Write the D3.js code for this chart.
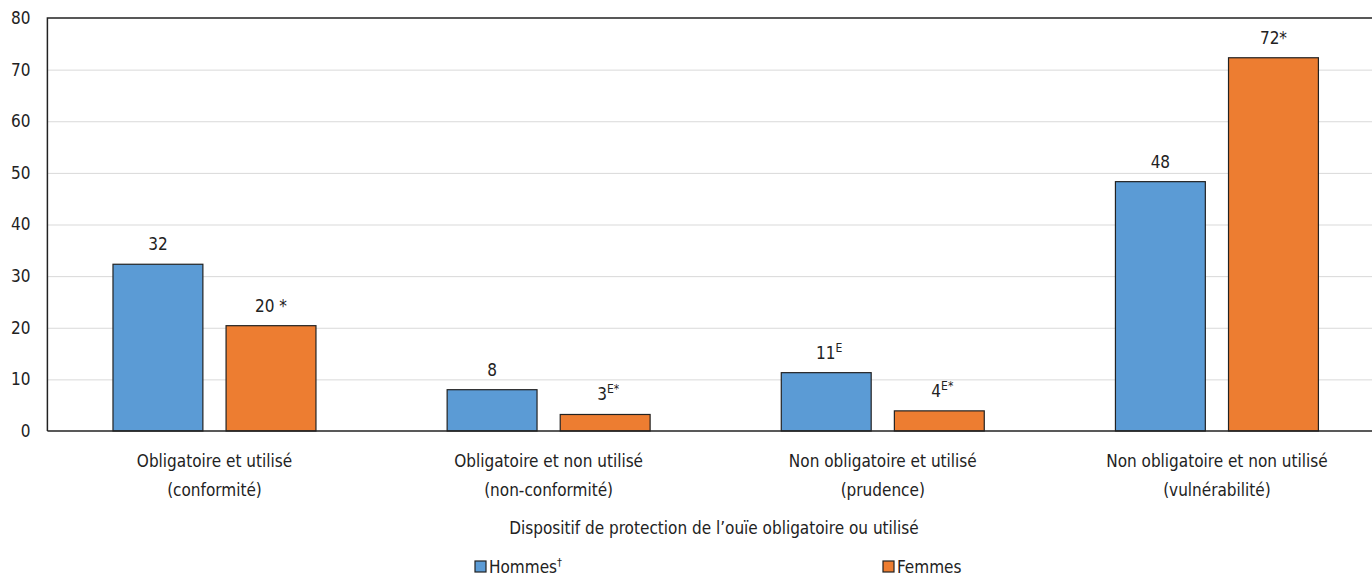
<!DOCTYPE html>
<html><head><meta charset="utf-8">
<script src="https://cdn.jsdelivr.net/npm/d3@7"></script>
<style>
html,body{margin:0;padding:0;background:#fff;}
svg text{font-family:"Liberation Sans Narrow","Arial Narrow","DejaVu Sans Condensed",sans-serif;fill:#222;}
</style></head>
<body><svg id="c" width="1372" height="576"></svg>
<script>
const categoriesL1 = ["Obligatoire et utilisé","Obligatoire et non utilisé","Non obligatoire et utilisé","Non obligatoire et non utilisé"];
const categoriesL2 = ["(conformité)","(non-conformité)","(prudence)","(vulnérabilité)"];
const seriesNames = ["Hommes","Femmes"];
const seriesSup = ["†",""];
const hommes = [32.3, 8.0, 11.3, 48.3];
const femmes = [20.4, 3.2, 3.9, 72.3];
const hommesLab = ["32","8","11","48"];
const hommesSup = ["","","E",""];
const femmesLab = ["20 *","3","4","72*"];
const femmesSup = ["","E*","E*",""];
const yTicks = [0,10,20,30,40,50,60,70,80];
const colors = ["#5B9BD5","#ED7D31"];
const axisTitle = "Dispositif de protection de l’ouïe obligatoire ou utilisé";

const svg = d3.select("#c");
const L = 47.4, R = 1384, T = 18, B = 431;
const x0 = d3.scaleBand().domain(d3.range(4)).range([L,R]).paddingInner(0).paddingOuter(0);
const x1 = d3.scaleBand().domain([0,1]).range([0, x0.bandwidth()]).paddingInner(0.205).paddingOuter(0.58);
const y = d3.scaleLinear().domain([0,80]).range([B,T]);

// gridlines
svg.append("g").selectAll("line").data(yTicks.filter(t=>t>0 && t<80)).join("line")
  .attr("x1",L).attr("x2",R).attr("y1",d=>y(d)+0.5).attr("y2",d=>y(d)+0.5)
  .attr("stroke","#d9d9d9").attr("stroke-width",1);

// y axis labels
const ya = svg.append("g").attr("transform",`translate(${L},0)`)
  .call(d3.axisLeft(y).tickValues(yTicks).tickSize(0).tickPadding(17));
ya.select(".domain").remove();
ya.selectAll("text").attr("font-size",17).attr("font-family",null).attr("fill","#222");

// frame
svg.append("path").attr("d",`M${L},${B}V${T}H${R}`).attr("fill","none").attr("stroke","#222").attr("stroke-width",1.5);

const data = [];
for(let i=0;i<4;i++){
  data.push({c:i,s:0,v:hommes[i],lab:hommesLab[i],sup:hommesSup[i]});
  data.push({c:i,s:1,v:femmes[i],lab:femmesLab[i],sup:femmesSup[i]});
}
svg.append("g").selectAll("rect").data(data).join("rect")
  .attr("x",d=>x0(d.c)+x1(d.s)).attr("width",x1.bandwidth())
  .attr("y",d=>y(d.v)).attr("height",d=>y(0)-y(d.v))
  .attr("fill",d=>colors[d.s]).attr("stroke","#222").attr("stroke-width",1.2);

// x axis line
svg.append("line").attr("x1",L).attr("x2",R).attr("y1",B).attr("y2",B).attr("stroke","#222").attr("stroke-width",1.5);

// value labels
const vl = svg.append("g").selectAll("text").data(data).join("text")
  .attr("x",d=>x0(d.c)+x1(d.s)+x1.bandwidth()/2 + (d.sup?3:0))
  .attr("y",d=>y(d.v)-14).attr("text-anchor","middle").attr("font-size",17);
vl.append("tspan").text(d=>d.lab);
vl.filter(d=>d.sup).append("tspan").attr("font-size",12).attr("dy",-7).text(d=>d.sup);

// category labels
const xl = svg.append("g").selectAll("text").data(d3.range(4)).join("text")
  .attr("text-anchor","middle").attr("font-size",17);
xl.append("tspan").attr("x",d=>x0(d)+x0.bandwidth()/2).attr("y",467).text(d=>categoriesL1[d]);
xl.append("tspan").attr("x",d=>x0(d)+x0.bandwidth()/2).attr("y",496).text(d=>categoriesL2[d]);

svg.append("text").attr("x",714).attr("y",534).attr("text-anchor","middle").attr("font-size",17).text(axisTitle);

// legend
const legX = [475, 883];
const lg = svg.append("g").selectAll("g").data(seriesNames).join("g")
  .attr("transform",(d,i)=>`translate(${legX[i]},561)`);
lg.append("rect").attr("width",11).attr("height",11).attr("fill",(d,i)=>colors[i]).attr("stroke","#222").attr("stroke-width",1.2);
const lt = lg.append("text").attr("x",14).attr("y",12).attr("font-size",17);
lt.append("tspan").text(d=>d);
lt.append("tspan").attr("font-size",11).attr("dy",-7).text((d,i)=>seriesSup[i]);
</script></body></html>
